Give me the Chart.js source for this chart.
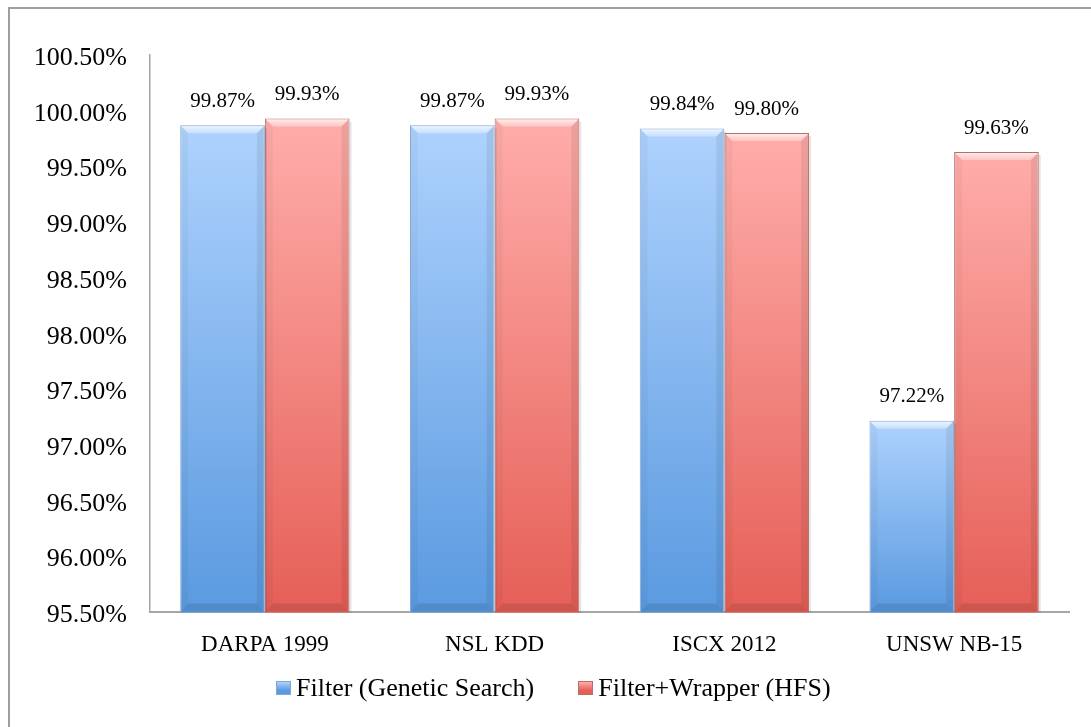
<!DOCTYPE html>
<html>
<head>
<meta charset="utf-8">
<title>Accuracy by dataset</title>
<script src="https://cdn.jsdelivr.net/npm/chart.js@4/dist/chart.umd.min.js"></script>
<style>
  html, body { margin:0; padding:0; background:#fff; overflow:hidden; }
  #frame { position:absolute; left:8px; top:7px; width:2000px; height:2000px;
           border-left:2px solid #9f9f9f; border-top:2px solid #9f9f9f; }
  #chart { position:absolute; left:0; top:0; }
  #legend { position:absolute; left:276px; top:674px; height:28px; display:flex; align-items:center;
            font-family:'Liberation Serif','Times New Roman',serif; font-size:26px; line-height:28px; color:#000; }
  .item { display:flex; align-items:center; margin-right:44px; white-space:nowrap; }
  .box { width:13px; height:12px; margin-right:5px; border:1px solid; box-sizing:content-box; }
</style>
</head>
<body>
<div id="frame"></div>
<canvas id="chart" width="1091" height="727"></canvas>
<div id="legend"></div>
<script>
/* ── data ── */
const categories   = ['DARPA 1999', 'NSL KDD', 'ISCX 2012', 'UNSW NB-15'];
const seriesNames  = ['Filter (Genetic Search)', 'Filter+Wrapper (HFS)'];
const filterGA     = [99.87, 99.87, 99.84, 97.22];
const filterHFS    = [99.93, 99.93, 99.80, 99.63];
const yTicks       = { min:95.5, max:100.5, step:0.5 };

const FONT = "'Liberation Serif', 'Times New Roman', serif";

/* bar colours: [top, bottom, border] */
const blueTone = ['#aed2fd', '#5a9ae0', '#82a6d2'];
const redTone  = ['#ffadaa', '#e55f57', '#b66e6b'];

/* gradient per bar, top light -> bottom darker, using the y scale */
function barGradient(tone) {
  return ctx => {
    const chart = ctx.chart;
    const ys = chart.scales.y;
    if (!ys || ctx.raw === undefined) return tone[1];
    const y0 = ys.getPixelForValue(ctx.raw);
    const y1 = ys.getPixelForValue(ys.min);
    if (!isFinite(y0) || !isFinite(y1) || y0 === y1) return tone[1];
    const g = chart.ctx.createLinearGradient(0, y0, 0, y1);
    g.addColorStop(0, tone[0]);
    g.addColorStop(1, tone[1]);
    return g;
  };
}

/* ── bevel look on bars ── */
const bevelPlugin = {
  id:'bevel',
  afterDatasetsDraw(chart) {
    const c = chart.ctx;
    const floor = chart.chartArea.bottom;
    chart.data.datasets.forEach((ds, i) => {
      chart.getDatasetMeta(i).data.forEach(el => {
        const l = el.x - el.width/2, r = el.x + el.width/2;
        const t = el.y, b = Math.min(el.base, floor) - 1, s = 8;
        c.save();
        // top face
        let g = c.createLinearGradient(0, t, 0, t+s);
        g.addColorStop(0, 'rgba(255,255,255,0.8)');
        g.addColorStop(1, 'rgba(255,255,255,0.3)');
        c.fillStyle = g;
        c.beginPath(); c.moveTo(l+1,t+1); c.lineTo(r-1,t+1); c.lineTo(r-s,t+s); c.lineTo(l+s,t+s); c.closePath(); c.fill();
        // left face
        c.fillStyle = 'rgba(0,0,0,0.03)';
        c.beginPath(); c.moveTo(l+1,t+1); c.lineTo(l+s,t+s); c.lineTo(l+s,b-s); c.lineTo(l+1,b); c.closePath(); c.fill();
        // right face
        c.fillStyle = 'rgba(0,0,0,0.07)';
        c.beginPath(); c.moveTo(r-1,t+1); c.lineTo(r-s,t+s); c.lineTo(r-s,b-s); c.lineTo(r-1,b); c.closePath(); c.fill();
        // bottom face
        c.fillStyle = 'rgba(0,0,0,0.10)';
        c.beginPath(); c.moveTo(l+1,b); c.lineTo(r-1,b); c.lineTo(r-s,b-s); c.lineTo(l+s,b-s); c.closePath(); c.fill();
        // soft shadow on the right
        c.fillStyle = 'rgba(0,0,0,0.10)';
        c.fillRect(r, t+3, 2, b-t-2);
        c.restore();
      });
    });
  }
};

/* ── value labels above bars ── */
const valueLabels = {
  id:'valueLabels',
  afterDatasetsDraw(chart) {
    const c = chart.ctx;
    c.save();
    c.font = '21px ' + FONT;
    c.fillStyle = '#000';
    c.textAlign = 'center';
    c.textBaseline = 'middle';
    chart.data.datasets.forEach((ds, i) => {
      chart.getDatasetMeta(i).data.forEach((el, j) => {
        c.fillText(ds.data[j].toFixed(2) + '%', el.x, el.y - 24);
      });
    });
    c.restore();
  }
};

/* ── html legend ── */
function buildLegend(chart) {
  const tones = [blueTone, redTone];
  document.getElementById('legend').innerHTML = chart.data.datasets.map((ds, i) => {
    const t = tones[i];
    return `<div class="item"><span class="box" style="background:linear-gradient(${t[0]},${t[1]} 70%);border-color:${t[2]}"></span>${ds.label}</div>`;
  }).join('');
}

const chart = new Chart(document.getElementById('chart'), {
  type:'bar',
  data:{
    labels:categories,
    datasets:[
      { label:seriesNames[0], data:filterGA,  backgroundColor:barGradient(blueTone), borderColor:blueTone[2], borderWidth:1 },
      { label:seriesNames[1], data:filterHFS, backgroundColor:barGradient(redTone),  borderColor:redTone[2],  borderWidth:1 },
    ]
  },
  options:{
    responsive:false, animation:false,
    categoryPercentage:0.737, barPercentage:1.0,
    layout:{ padding:{ left:0, right:22, top:55, bottom:57 } },
    plugins:{
      legend:{ display:false },
      tooltip:{ enabled:false }
    },
    scales:{
      x:{
        grid:{ display:false },
        border:{ display:true, color:'#a6a6a6', width:2 },
        ticks:{ font:{ family:FONT, size:23 }, color:'#000', padding:11 }
      },
      y:{
        min:yTicks.min, max:yTicks.max,
        grid:{ display:false, drawTicks:false },
        border:{ display:true, color:'#a6a6a6', width:1.5 },
        ticks:{
          stepSize:yTicks.step, font:{ family:FONT, size:26 }, color:'#000', padding:23, labelOffset:3,
          callback:v => Number(v).toFixed(2) + '%'
        },
        afterFit(scale) { scale.width = 150; }
      }
    }
  },
  plugins:[bevelPlugin, valueLabels]
});
buildLegend(chart);
</script>
</body>
</html>
